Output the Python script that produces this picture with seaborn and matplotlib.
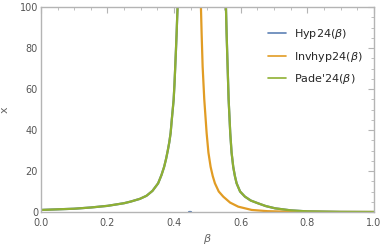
import numpy as np
import pandas as pd
import matplotlib
matplotlib.use("Agg")
import matplotlib.pyplot as plt
import seaborn as sns
from matplotlib.ticker import MultipleLocator

# values
beta_left = [0.0, 0.05, 0.1, 0.15, 0.2, 0.25, 0.27, 0.297, 0.317, 0.335, 0.352, 0.362, 0.370, 0.376,
             0.381, 0.3855, 0.3895, 0.393, 0.3985, 0.401, 0.4034, 0.4055, 0.4075, 0.409, 0.4104, 0.4115]
x_left = [1.0, 1.3, 1.6, 2.2, 3.0, 4.3, 5.1, 6.4, 7.9, 10.3, 14.0, 18.0, 22.0, 26.0,
          30.0, 34.0, 38.5, 45.0, 54.6, 62.0, 71.0, 79.0, 87.0, 94.0, 100.0, 106.0]

beta_inv = [0.4795, 0.4805, 0.4826, 0.4856, 0.4905, 0.4976, 0.503, 0.5096, 0.516, 0.5225, 0.534,
            0.5475, 0.568, 0.5925, 0.633, 0.68, 0.75, 0.85, 1.0]
x_inv = [106.0, 100.0, 87.0, 71.0, 55.0, 38.5, 29.0, 22.0, 17.5, 14.0, 10.0,
         7.5, 4.6, 2.6, 1.0, 0.4, 0.1, 0.02, 0.0]

beta_right = [0.5548, 0.5556, 0.5576, 0.5606, 0.5636, 0.5685, 0.5725, 0.5775, 0.5825, 0.5876, 0.598,
              0.6126, 0.63, 0.6526, 0.675, 0.703, 0.75, 0.8, 0.9, 1.0]
x_right = [106.0, 100.0, 87.0, 71.0, 55.0, 38.5, 29.0, 22.0, 17.5, 14.0, 10.0,
           7.5, 5.6, 4.2, 2.9, 1.8, 0.8, 0.3, 0.05, 0.0]

beta_blip = [0.444, 0.451]
x_blip = [0.0, 0.0]

names = ["Hyp24($\\beta$)", "Invhyp24($\\beta$)", "Pade'24($\\beta$)"]
colors = ["#5E81B5", "#E19C24", "#8FB032"]

rows = []
def add(series, branch, bs, xs):
    for b, v in zip(bs, xs):
        rows.append({"beta": b, "x": v, "series": series, "branch": branch})

add(names[0], "h1", beta_left, x_left)
add(names[0], "h2", beta_blip, x_blip)
add(names[0], "h3", beta_right, x_right)
add(names[1], "i1", beta_inv, x_inv)
add(names[2], "p1", beta_left, x_left)
add(names[2], "p2", beta_right, x_right)
df = pd.DataFrame(rows)

sns.set_style("white")
plt.rcParams["font.family"] = ["DejaVu Sans"]

fig = plt.figure(figsize=(3.82, 2.5), dpi=100)
ax = fig.add_axes([0.107, 0.152, 0.872, 0.82])

sns.lineplot(data=df, x="beta", y="x", hue="series", units="branch", estimator=None,
             sort=False, palette=dict(zip(names, colors)), hue_order=names,
             linewidth=1.6, ax=ax)

ax.set_xlim(0, 1)
ax.set_ylim(0, 100)
ax.xaxis.set_major_locator(MultipleLocator(0.2))
ax.xaxis.set_minor_locator(MultipleLocator(0.05))
ax.yaxis.set_major_locator(MultipleLocator(20))
ax.yaxis.set_minor_locator(MultipleLocator(5))
ax.set_xticklabels([f"{v:.1f}" for v in ax.get_xticks()])

frame_col = "#b4b4b4"
for s in ax.spines.values():
    s.set_color(frame_col)
    s.set_linewidth(1.0)
ax.tick_params(which="both", direction="in", top=True, right=True, color=frame_col,
               labelcolor="#555555", labelsize=7)
ax.tick_params(axis="x", pad=4)
ax.tick_params(axis="y", pad=2)
ax.tick_params(which="major", length=4, width=0.8)
ax.tick_params(which="minor", length=2, width=0.6)

ax.set_xlabel("$\\beta$", fontsize=8, color="#666666", labelpad=3)
ax.set_ylabel("x", fontsize=8, color="#666666", labelpad=7)

leg = ax.legend(loc="upper right", bbox_to_anchor=(0.995, 0.95), frameon=False,
                fontsize=8, handlelength=1.6, handletextpad=0.7, labelspacing=0.75)
for line in leg.get_lines():
    line.set_linewidth(1.2)

fig.savefig("out.png", dpi=100)
